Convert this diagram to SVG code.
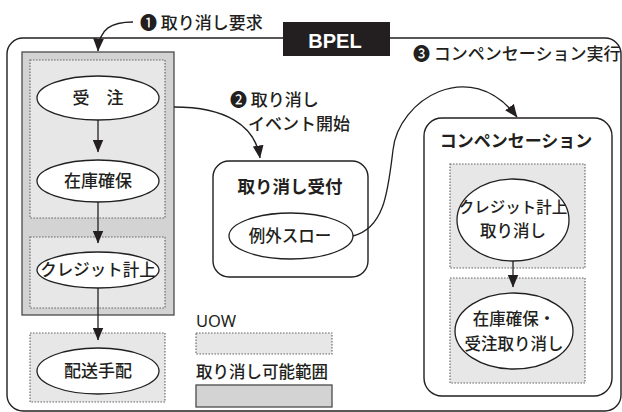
<svg xmlns="http://www.w3.org/2000/svg" width="622" height="412" viewBox="0 0 622 412">
<defs>
<marker id="arr" viewBox="0 0 12 10" refX="11.5" refY="5" markerWidth="13" markerHeight="11" markerUnits="userSpaceOnUse" orient="auto">
<path d="M0,0 L12,5 L0,10 Z" fill="#231f20"/>
</marker>
<style>
.t{font-family:"Noto Sans CJK JP","Noto Sans",sans-serif;fill:#231f20;font-size:16.5px;font-weight:500}
.b{font-weight:bold}
.ell{fill:#fff;stroke:#231f20;stroke-width:1.3}
.uow{fill:#e7e7e7;stroke:#6a6a6a;stroke-width:1.2;stroke-dasharray:1.6 1.4}
.rng{fill:#d3d3d3;stroke:#4a4a4a;stroke-width:1.3}
.box{fill:#fff;stroke:#231f20;stroke-width:1.4}
.ln{fill:none;stroke:#231f20;stroke-width:1.3}
</style>
</defs>
<rect width="622" height="412" fill="#fff"/>
<g id="bpel">
<rect x="7" y="38" width="614" height="373" rx="16" fill="none" stroke="#231f20" stroke-width="1.4"/>
<rect x="283" y="22" width="107" height="34" fill="#231f20"/>
<text x="335" y="48" text-anchor="middle" style="font-family:'Liberation Sans',Arial,sans-serif;font-weight:bold;font-size:20px;fill:#fff">BPEL</text>
</g>
<g id="cancel-range">
<rect class="rng" x="22" y="52" width="152" height="263"/>
</g>
<g id="uow-order">
<rect class="uow" x="30" y="60" width="135" height="158"/>
</g>
<g id="uow-credit">
<rect class="uow" x="30" y="237" width="135" height="71"/>
</g>
<g id="uow-ship">
<rect class="uow" x="30" y="333" width="135" height="69"/>
</g>
<g id="order">
<ellipse class="ell" cx="98" cy="98" rx="61" ry="22"/>
<text class="t" x="98" y="104" text-anchor="middle" style="font-size:17px">受　注</text>
</g>
<g id="stock">
<ellipse class="ell" cx="98" cy="181" rx="61" ry="21"/>
<text class="t" x="98" y="187" text-anchor="middle" style="font-size:17px">在庫確保</text>
</g>
<g id="credit">
<ellipse class="ell" cx="98" cy="270" rx="61" ry="18"/>
<text class="t" x="98" y="276" text-anchor="middle" style="font-size:16.5px">クレジット計上</text>
</g>
<g id="ship">
<ellipse class="ell" cx="98" cy="371" rx="61" ry="23"/>
<text class="t" x="98" y="377" text-anchor="middle" style="font-size:17px">配送手配</text>
</g>
<g id="cancel-receive">
<rect class="box" x="213" y="161" width="155" height="116" rx="16"/>
<text class="t b" x="290" y="193" text-anchor="middle" style="font-size:17.5px">取り消し受付</text>
</g>
<g id="throw">
<ellipse class="ell" cx="291" cy="236" rx="62" ry="23"/>
<text class="t" x="290" y="242" text-anchor="middle" style="font-size:16.5px">例外スロー</text>
</g>
<g id="compensation">
<rect class="box" x="424" y="118" width="188" height="278" rx="18"/>
<text class="t b" x="516" y="147" text-anchor="middle" style="font-size:17px">コンペンセーション</text>
<rect class="uow" x="450" y="164" width="135" height="104"/>
<rect class="uow" x="450" y="278" width="135" height="105"/>
</g>
<g id="credit-cancel">
<ellipse class="ell" cx="513" cy="220" rx="56" ry="41"/>
<text class="t" x="513" y="213" text-anchor="middle" style="font-size:15.5px">クレジット計上</text>
<text class="t" x="513" y="237" text-anchor="middle" style="font-size:16.5px">取り消し</text>
</g>
<g id="stock-order-cancel">
<ellipse class="ell" cx="514" cy="331" rx="59" ry="38"/>
<text class="t" x="514" y="325" text-anchor="middle">在庫確保・</text>
<text class="t" x="514" y="350" text-anchor="middle">受注取り消し</text>
</g>
<g id="legend">
<text class="t" x="196" y="327" style="font-family:'Noto Sans','Liberation Sans',sans-serif;font-weight:normal">UOW</text>
<rect class="uow" x="196" y="333" width="136" height="21"/>
<text class="t" x="196" y="378">取り消し可能範囲</text>
<rect class="rng" x="196" y="385" width="136" height="22"/>
</g>
<g id="connectors">
<path class="ln" d="M98,120 L98,152" marker-end="url(#arr)"/>
<path class="ln" d="M98,202 L98,243" marker-end="url(#arr)"/>
<path class="ln" d="M98,288 L98,340" marker-end="url(#arr)"/>
<path class="ln" d="M513,261 L513,287" marker-end="url(#arr)"/>
<path class="ln" d="M133,22 C112,22 99,28 98,51" marker-end="url(#arr)"/>
<path class="ln" d="M174,107 C225,107 255,125 260,158" marker-end="url(#arr)"/>
<path class="ln" d="M353,236 C385,228 388,190 393,150 C398,100 470,55 517,117" marker-end="url(#arr)"/>
</g>
<g id="labels">
<text class="t" x="140" y="29" style="font-size:17px">❶ 取り消し要求</text>
<text class="t" x="230" y="106" style="font-size:17px">❷ 取り消し</text>
<text class="t" x="248" y="130" style="font-size:17px">イベント開始</text>
<text class="t" x="413" y="60" style="font-size:17px">❸ コンペンセーション実行</text>
</g>
</svg>
